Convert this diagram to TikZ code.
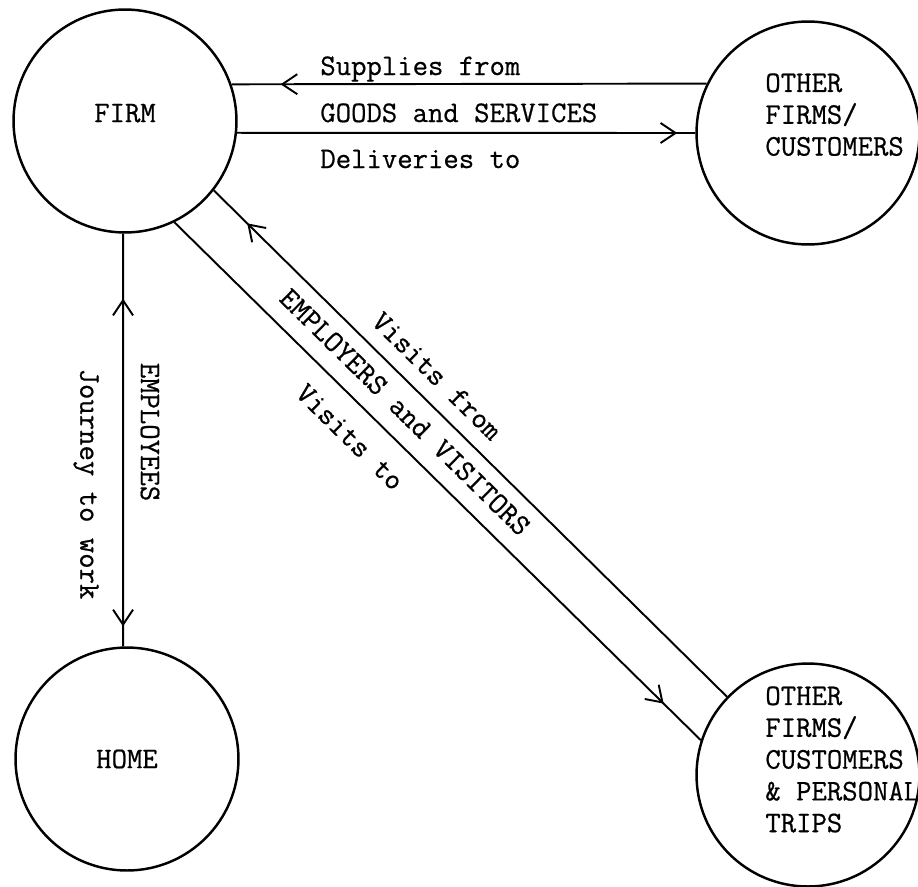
\documentclass[tikz,border=0pt]{standalone}
\usepackage{fontspec}
\newfontfamily\typer{Latin Modern Mono}[FakeBold=0.6]
\usetikzlibrary{arrows.meta,decorations.markings}
\tikzset{
  place/.style={circle,draw,line width=1.4pt,minimum size=4.46cm,inner sep=0pt,font=\typer\fontsize{17}{18.1}\selectfont},
  txt/.style={inner sep=0pt,font=\typer\fontsize{17}{18.1}\selectfont},
  flow/.style={line width=1.1pt},
  tipat/.style={postaction={decorate},decoration={markings,mark=at position #1 with {\arrow{Straight Barb[length=3mm,width=4mm]}}}}
}
\begin{document}
\begin{tikzpicture}[x=0.02cm,y=-0.02cm]
\useasboundingbox (0,0) rectangle (918,886);
% the four places
\node[place,text depth=0.32cm] (firm) at (125,121) {FIRM};
\node[place] (other) at (808,133) {};
\node[place] (home) at (127,759) {HOME};
\node[place] (trips) at (808,775) {};
\node[txt,anchor=north west,align=left] (otherlbl) at (765,73) {OTHER\\FIRMS/\\CUSTOMERS};
\node[txt,anchor=north west,align=left] (tripslbl) at (765,686) {OTHER\\FIRMS/\\CUSTOMERS\\\& PERSONAL\\TRIPS};
% goods and services
\draw[flow,tipat=-0.98cm] (other.154) -- (firm.19);
\draw[flow,tipat=-0.36cm] (firm.-6) -- (other.180);
\node[txt,anchor=base west] (supplylbl) at (320,75) {Supplies from};
\node[txt,anchor=base west] (goodslbl) at (320,122) {GOODS and SERVICES};
\node[txt,anchor=base west] (deliverylbl) at (320,168) {Deliveries to};
% employees
\draw[flow,postaction={decorate},decoration={markings,
  mark=at position 1.3cm with {\arrowreversed{Straight Barb[length=3mm,width=4mm]}},
  mark=at position -0.4cm with {\arrow{Straight Barb[length=3mm,width=4mm]}}}]
  (firm.-91) -- (home.92);
\node[txt,rotate=-90] (journeylbl) at (86,484) {Journey to work};
\node[txt,rotate=-90] (employeeslbl) at (150,432) {EMPLOYEES};
% employers and visitors
\draw[flow,tipat=-0.94cm] (trips.136) -- (firm.-38);
\draw[flow,tipat=-1.04cm] (firm.-64) -- (trips.162);
\node[txt,rotate=-44.5] (visitfromlbl) at (437,376) {Visits from};
\node[txt,rotate=-44.5] (employerslbl) at (405,412) {EMPLOYERS and VISITORS};
\node[txt,rotate=-44.5] (visittolbl) at (350,437) {Visits to};
\end{tikzpicture}
\end{document}
